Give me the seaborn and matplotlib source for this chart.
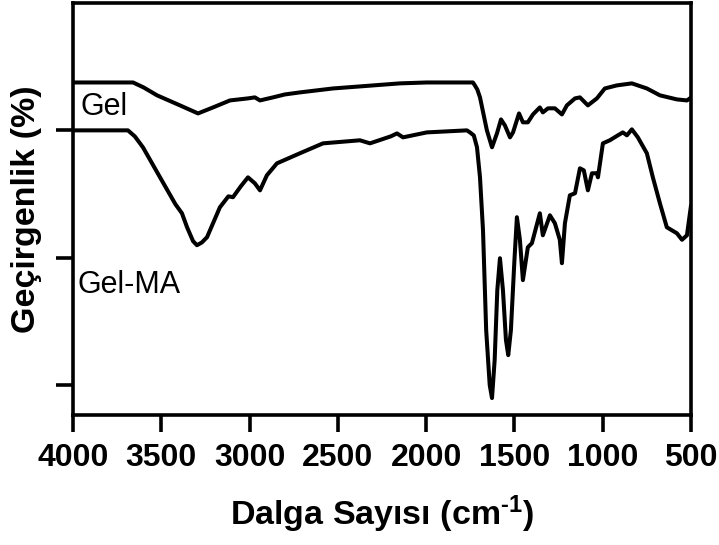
import numpy as np
import pandas as pd
import matplotlib
matplotlib.use("Agg")
import matplotlib.pyplot as plt
import seaborn as sns

# ---- data ----
gel_wn = [4000, 3680, 3660, 3600, 3524, 3394, 3292, 3207, 3111, 3060, 3009, 2970, 2941,
          2867, 2800, 2715, 2528, 2375, 2148, 1996, 1735, 1724, 1710, 1695, 1656, 1627,
          1599, 1576, 1554, 1525, 1508, 1474, 1452, 1424, 1395, 1356, 1339, 1310, 1271,
          1231, 1203, 1157, 1129, 1084, 1033, 988, 920, 835, 750, 676, 580, 523, 506, 500]
gel_t = [2.376, 2.376, 2.376, 2.337, 2.275, 2.196, 2.133, 2.180, 2.235, 2.243, 2.251,
         2.259, 2.235, 2.259, 2.282, 2.298, 2.329, 2.345, 2.369, 2.376, 2.376, 2.353,
         2.320, 2.259, 2.000, 1.867, 1.976, 2.086, 2.039, 1.945, 1.984, 2.133, 2.063,
         2.063, 2.125, 2.180, 2.141, 2.173, 2.173, 2.125, 2.196, 2.251, 2.259, 2.196,
         2.251, 2.329, 2.353, 2.369, 2.329, 2.275, 2.243, 2.235, 2.251, 2.259]

gelma_wn = [4000, 3689, 3650, 3604, 3507, 3420, 3383, 3354, 3320, 3298, 3270, 3241, 3168,
            3120, 3094, 3050, 3009, 2970, 2941, 2902, 2845, 2715, 2584, 2375, 2318, 2200,
            2165, 2131, 1996, 1769, 1752, 1730, 1712, 1695, 1678, 1660, 1640, 1627, 1612,
            1597, 1582, 1565, 1548, 1535, 1520, 1500, 1486, 1469, 1452, 1424, 1401, 1356,
            1339, 1299, 1271, 1243, 1231, 1214, 1186, 1157, 1129, 1107, 1084, 1061, 1033,
            1027, 999, 960, 914, 886, 863, 835, 801, 750, 716, 676, 637, 580, 551, 523,
            506, 500]
gelma_t = [2.000, 2.000, 1.953, 1.867, 1.631, 1.420, 1.349, 1.239, 1.130, 1.098, 1.120,
           1.161, 1.396, 1.482, 1.475, 1.560, 1.631, 1.584, 1.529, 1.647, 1.741, 1.820,
           1.898, 1.922, 1.898, 1.953, 1.976, 1.945, 1.984, 2.000, 1.984, 1.960, 1.867,
           1.631, 1.216, 0.431, 0.000, -0.102, 0.196, 0.745, 0.996, 0.745, 0.353, 0.235,
           0.431, 0.980, 1.318, 1.141, 0.824, 1.082, 1.114, 1.349, 1.176, 1.333, 1.271,
           1.141, 0.957, 1.271, 1.490, 1.506, 1.702, 1.686, 1.529, 1.663, 1.663, 1.631,
           1.898, 1.922, 1.961, 1.984, 1.961, 2.008, 1.945, 1.820, 1.631, 1.427, 1.239,
           1.192, 1.141, 1.176, 1.349, 1.410]

labels = ["Gel", "Gel-MA"]
xticks = [4000, 3500, 3000, 2500, 2000, 1500, 1000, 500]

df = pd.concat([
    pd.DataFrame({"wn": gel_wn, "t": gel_t, "s": labels[0]}),
    pd.DataFrame({"wn": gelma_wn, "t": gelma_t, "s": labels[1]}),
])

sns.set_style("white")
plt.rcParams["font.family"] = ["Liberation Sans", "DejaVu Sans"]
plt.rcParams.update({
    "text.color": "black", "axes.labelcolor": "black",
    "xtick.color": "black", "ytick.color": "black",
    "mathtext.fontset": "custom",
    "mathtext.rm": "Liberation Sans:bold",
    "mathtext.bf": "Liberation Sans:bold",
    "mathtext.it": "Liberation Sans:bold",
})

fig = plt.figure(figsize=(7.19, 5.45), dpi=100)
ax = fig.add_axes([73 / 719, 1 - 415 / 545, 618 / 719, 412 / 545])

sns.lineplot(data=df, x="wn", y="t", hue="s", units="s", estimator=None, sort=False,
             palette=["black", "black"], linewidth=2.9, legend=False, ax=ax,
             solid_joinstyle="round", solid_capstyle="round")

ax.set_xlim(4000, 500)
ax.set_ylim(-0.235, 3.0)
ax.set_xticks(xticks)
ax.set_xticklabels([str(v) for v in xticks], fontsize=23, fontweight="bold")
ax.set_yticks([0, 1, 2])
ax.set_yticklabels([])
ax.tick_params(axis="both", direction="out", length=12, width=2.6, color="black",
               bottom=True, left=True, pad=8)
for sp in ax.spines.values():
    sp.set_linewidth(2.6)
    sp.set_color("black")

ax.set_xlabel("Dalga Sayısı (cm$^{\u2010 1}$)", fontsize=24.5, fontweight="bold", labelpad=15)
ax.set_ylabel("Geçirgenlik (%)", fontsize=24.5, fontweight="bold")
ax.yaxis.set_label_coords(-0.05, 0.5)

ax.text(3955, 2.118, labels[0], fontsize=22, ha="left", va="baseline", color="black")
ax.text(3975, 0.722, labels[1], fontsize=22, ha="left", va="baseline", color="black")

fig.savefig("out.png", dpi=100)
